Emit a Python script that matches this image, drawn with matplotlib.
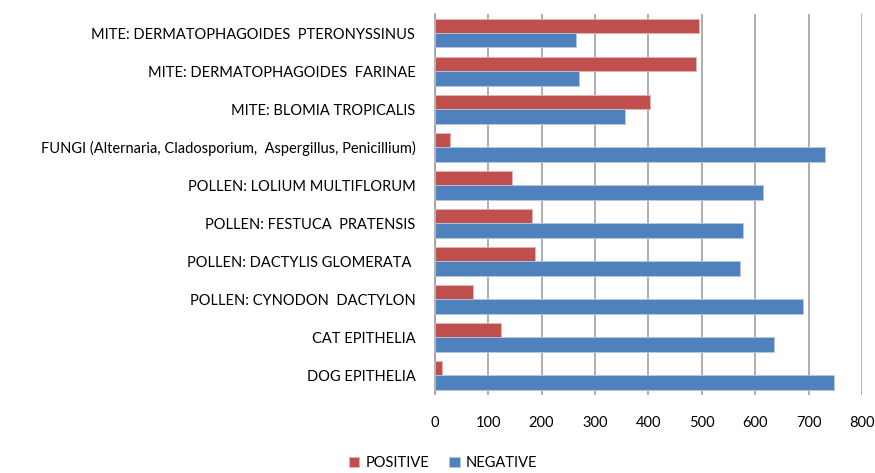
import matplotlib
matplotlib.use("Agg")
import matplotlib.pyplot as plt
import numpy as np

categories = [
    "MITE: DERMATOPHAGOIDES  PTERONYSSINUS",
    "MITE: DERMATOPHAGOIDES  FARINAE",
    "MITE: BLOMIA TROPICALIS",
    "FUNGI (Alternaria, Cladosporium,  Aspergillus, Penicillium)",
    "POLLEN: LOLIUM MULTIFLORUM",
    "POLLEN: FESTUCA  PRATENSIS",
    "POLLEN: DACTYLIS GLOMERATA ",
    "POLLEN: CYNODON  DACTYLON",
    "CAT EPITHELIA",
    "DOG EPITHELIA",
]
positive = [495, 490, 404, 29, 145, 182, 188, 71, 125, 13]
negative = [265, 270, 356, 731, 615, 578, 572, 689, 635, 747]
xticks = [0, 100, 200, 300, 400, 500, 600, 700, 800]

plt.rcParams['font.family'] = ['Lato', 'DejaVu Sans']

fig = plt.figure(figsize=(8.75, 4.73), dpi=100)
ax = fig.add_axes([434.7/875, (473-394.5)/473, (862-434.7)/875, (394.5-14)/473])

y = np.arange(len(categories))
h = 0.38
red = '#C0504D'
blue = '#4F81BD'
ax.barh(y - h/2, positive, height=h, color=red, edgecolor='#E3B4B3', linewidth=0.6, label='POSITIVE', zorder=3)
ax.barh(y + h/2, negative, height=h, color=blue, edgecolor='#B3C8E3', linewidth=0.6, label='NEGATIVE', zorder=3)

ax.set_ylim(len(categories) - 0.5, -0.5)
ax.set_xlim(0, 800)
ax.set_xticks(xticks)
ax.set_xticklabels([str(t) for t in xticks], fontsize=10.5, color='black')
ax.set_yticks(y)
ax.set_yticklabels(categories, fontsize=10.5, color='black')
ax.tick_params(axis='both', length=0)
ax.tick_params(axis='y', pad=14)
ax.tick_params(axis='x', pad=15.5)

ax.grid(axis='x', color='#999999', linewidth=1.1, zorder=0)
ax.set_axisbelow(True)
for s in ['top', 'right', 'bottom']:
    ax.spines[s].set_visible(False)
ax.spines['left'].set_color('#999999')
ax.spines['left'].set_linewidth(1.1)

leg = fig.legend(loc='center', bbox_to_anchor=(443/875, 1 - 463/473), ncol=2, frameon=False,
                 fontsize=10.5, handlelength=0.7, handleheight=0.7, handletextpad=0.4,
                 columnspacing=1.4)

fig.savefig('out.png', dpi=100)
